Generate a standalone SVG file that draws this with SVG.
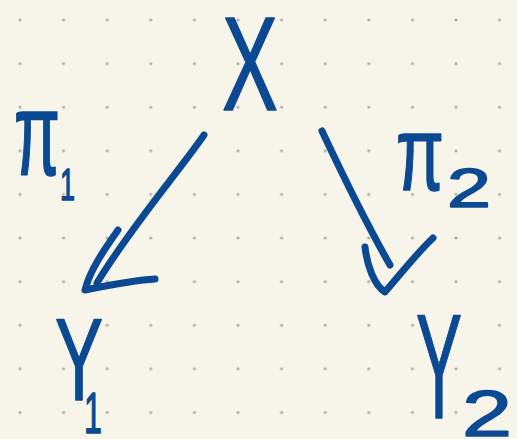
<svg xmlns="http://www.w3.org/2000/svg" width="517" height="439" viewBox="0 0 517 439">
  <defs>
    <pattern id="dots" x="0" y="0" width="43.6" height="43.6" patternUnits="userSpaceOnUse" patternTransform="translate(20 20)">
      <circle cx="0" cy="0" r="1.6" fill="#b3afa6"/>
      <circle cx="43.6" cy="0" r="1.6" fill="#b3afa6"/>
      <circle cx="0" cy="43.6" r="1.6" fill="#b3afa6"/>
      <circle cx="43.6" cy="43.6" r="1.6" fill="#b3afa6"/>
    </pattern>
  </defs>
  <style>
    .ink { fill: #0b4a92; stroke: #0b4a92; stroke-width: 1.5; stroke-linejoin: round; font-family: "Liberation Sans", "DejaVu Sans", sans-serif; }
    .line { fill: none; stroke: #0b4a92; stroke-width: 7; stroke-linecap: round; stroke-linejoin: round; }
  </style>
  <rect width="517" height="439" fill="#f7f5ea"/>
  <rect width="517" height="439" fill="url(#dots)"/>

  <g id="node-X">
    <text class="ink" x="222" y="110" font-size="134" textLength="56" lengthAdjust="spacingAndGlyphs">X</text>
  </g>
  <g id="node-Y1">
    <text class="ink" font-size="117"><tspan x="55" y="400" textLength="48" lengthAdjust="spacingAndGlyphs">Y</tspan><tspan x="84" y="433" font-size="58" textLength="18" lengthAdjust="spacingAndGlyphs">1</tspan></text>
  </g>
  <g id="node-Y2">
    <text class="ink" font-size="148"><tspan x="416" y="418" textLength="46" lengthAdjust="spacingAndGlyphs">Y</tspan><tspan x="462" y="436" font-size="64" textLength="50" lengthAdjust="spacingAndGlyphs">2</tspan></text>
  </g>
  <g id="label-pi1">
    <text class="ink" font-size="118"><tspan x="14" y="175" textLength="46" lengthAdjust="spacingAndGlyphs">π</tspan><tspan x="60" y="200" font-size="45" textLength="15" lengthAdjust="spacingAndGlyphs">1</tspan></text>
  </g>
  <g id="label-pi2">
    <text class="ink" font-size="106"><tspan x="396" y="190" textLength="48" lengthAdjust="spacingAndGlyphs">π</tspan><tspan x="447" y="207" font-size="55" textLength="44" lengthAdjust="spacingAndGlyphs">2</tspan></text>
  </g>

  <g id="connectors">
    <path class="line" d="M204,135 C180,170 130,228 97,283"/>
    <path class="line" d="M118,230 C104,250 90,270 85,290 C110,285 135,280 155,279"/>
    <path class="line" d="M322,131 C345,180 370,230 390,265"/>
    <path class="line" d="M365,247 C367,265 374,285 385,292 C400,275 415,255 433,238"/>
  </g>
</svg>
